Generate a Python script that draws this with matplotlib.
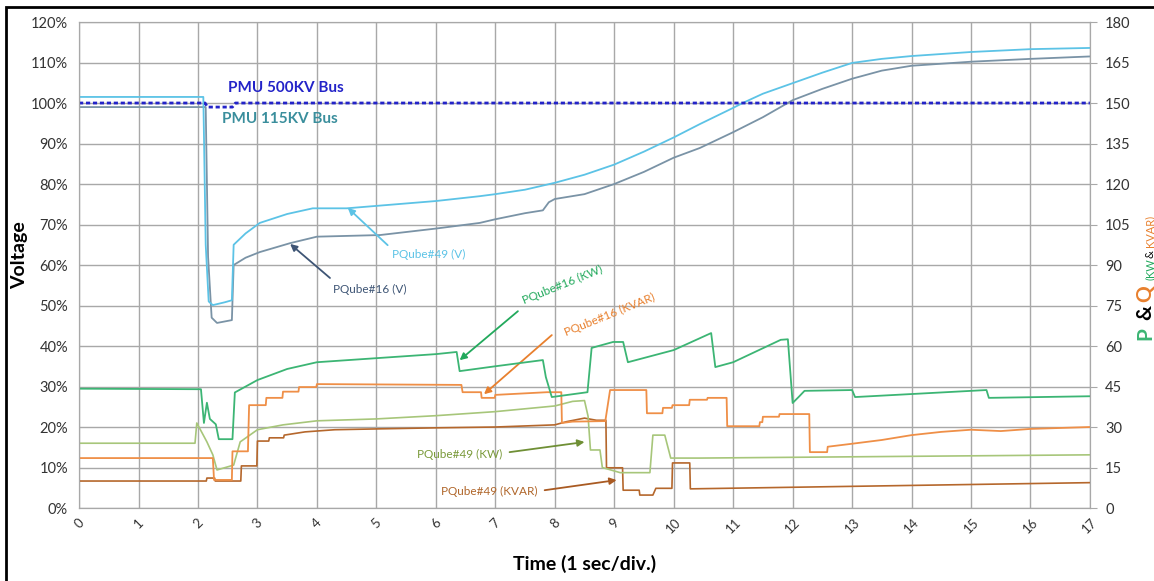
import matplotlib.pyplot as plt
from matplotlib.patches import Rectangle

plt.rcParams['font.family'] = ['Lato', 'DejaVu Sans']

# Bus voltages [% of nominal] vs time [s]
t_pmu500 = [0, 2.12, 2.16, 2.58, 2.63, 17]
v_pmu500 = [100, 100, 99, 99, 100, 100]

t_pq49_v = [0, 2.09, 2.13, 2.18, 2.25, 2.45, 2.57, 2.6, 2.8, 3.04, 3.5, 3.93, 4.5, 5, 6,
            6.74, 7, 7.5, 8, 8.5, 9, 9.5, 10, 10.44, 11, 11.16, 11.5, 12, 12.5, 13,
            13.5, 14, 15, 16, 17]
v_pq49 = [101.5, 101.5, 65, 51, 50.1, 50.8, 51.3, 65, 67.8, 70.4, 72.6, 74, 74, 74.6, 75.8,
          77, 77.5, 78.6, 80.3, 82.3, 84.8, 88, 91.5, 94.8, 98.8, 100, 102.3, 104.9, 107.5, 109.9,
          110.9, 111.6, 112.6, 113.3, 113.6]

t_pq16_v = [0, 2.13, 2.17, 2.23, 2.32, 2.57, 2.6, 2.8, 3.04, 3.55, 4, 5.06, 6, 6.74, 7,
            7.5, 7.8, 7.9, 8, 8.5, 9, 9.5, 10, 10.44, 11, 11.5, 12, 12.5, 13, 13.5,
            14, 15, 16, 17]
v_pq16 = [99, 99, 62, 47, 45.7, 46.4, 60, 61.8, 63.2, 65.4, 67, 67.4, 69, 70.4, 71.3,
          72.8, 73.5, 75.5, 76.3, 77.5, 80, 83, 86.5, 88.9, 92.8, 96.5, 100.7, 103.5, 106, 108,
          109.2, 110.2, 110.9, 111.5]

# Active / reactive power [kW, kVAR] vs time [s]
t_pq16_kw = [0, 2.05, 2.1, 2.15, 2.2, 2.3, 2.35, 2.58, 2.62, 3.0, 3.5, 4.0, 5, 6, 6.35,
             6.4, 7, 7.8, 7.85, 7.95, 8.55, 8.62, 8.98, 9.15, 9.23, 10, 10.63, 10.7, 11,
             11.8, 11.92, 12.0, 12.1, 12.2, 13.0, 13.05, 15.26, 15.3, 17]
p_pq16 = [44.2, 44.0, 31.5, 39, 33, 31, 25.5, 25.5, 42.8, 47.4, 51.5, 54, 55.5, 57, 57.8,
          50.7, 52.5, 54.8, 48.5, 41.1, 42.9, 59.3, 61.5, 61.5, 54, 58.5, 64.8, 52.2, 54,
          62.3, 62.5, 38.9, 41.1, 43.4, 43.7, 41.1, 43.7, 40.8, 41.4]

t_pq16_kvar = [0, 2.25, 2.27, 2.57, 2.58, 2.84, 2.86, 3.14, 3.15, 3.42, 3.43, 3.69, 3.7,
               3.99, 4.0, 6.43, 6.45, 6.76, 6.77, 6.99, 7.0, 7.87, 8.11, 8.12, 8.3, 8.85,
               8.93, 9.54, 9.55, 9.81, 9.82, 9.97, 9.98, 10.26, 10.27, 10.56, 10.57, 10.89,
               10.9, 11.44, 11.45, 11.49, 11.5, 11.77, 11.78, 12.28, 12.29, 12.58, 12.59,
               12.96, 13.5, 14, 14.5, 15, 15.5, 16, 17]
q_pq16 = [18.5, 18.5, 10.4, 10.4, 21, 21, 38.1, 38.1, 40.8, 40.8, 43.1, 43.1, 44.8,
          44.8, 45.9, 45.6, 42.9, 42.9, 40.8, 40.8, 41.9, 42.9, 42.9, 31.5, 32, 32.2,
          43.7, 43.7, 35.1, 35.1, 37.1, 37.1, 38.1, 38.1, 40.1, 40.1, 40.8, 40.8,
          30.3, 30.3, 31.8, 31.8, 33.8, 33.8, 34.8, 34.8, 20.7, 20.7, 22.7,
          23.7, 25.2, 27, 28.2, 29, 28.5, 29.3, 30]

t_pq49_kw = [0, 1.95, 1.98, 2.15, 2.25, 2.32, 2.6, 2.71, 3.0, 3.43, 4, 5, 6, 7, 8, 8.3,
             8.5, 8.56, 8.6, 8.76, 8.8, 9.1, 9.6, 9.65, 9.85, 9.95, 10.44, 17]
p_pq49 = [24, 24, 31.5, 24.5, 19.7, 14.1, 15.9, 24.5, 29, 30.8, 32.3, 33, 34.2, 35.7, 37.8,
          39.5, 39.8, 34, 21.5, 21.5, 15, 13.1, 13.1, 27, 27, 18.5, 18.5, 19.7]

t_pq49_kvar = [0, 2.14, 2.15, 2.28, 2.29, 2.72, 2.73, 2.99, 3.0, 3.19, 3.2, 3.44, 3.45,
               3.8, 4.3, 5, 6, 7, 8, 8.2, 8.5, 8.7, 8.86, 8.87, 9.14, 9.15, 9.42, 9.43,
               9.65, 9.7, 9.97, 9.98, 10.27, 10.28, 17]
q_pq49 = [10, 10, 11.1, 11.1, 10, 10, 15.6, 15.6, 24.8, 24.8, 26, 26, 27,
          28.2, 29, 29.3, 29.7, 30, 30.8, 32, 33.3, 32.5, 32.5, 14.9, 14.9, 6.6, 6.6, 4.8,
          4.8, 7.3, 7.3, 16.7, 16.7, 7.1, 9.4]

x_ticks = list(range(0, 18))
v_ticks = list(range(0, 121, 10))
pq_ticks = list(range(0, 181, 15))

c_pmu = '#2323c8'
c_v49 = '#5cc3e6'
c_v16 = '#7a93a6'
c_p16 = '#3cb574'
c_q16 = '#ef8f47'
c_p49 = '#a7c67a'
c_q49 = '#b5672c'

W, H = 1154, 581
fig = plt.figure(figsize=(11.54, 5.81), dpi=100)
ax = fig.add_axes([0.0685, 0.1256, 0.876, 0.8365])
ax2 = ax.twinx()

ax.plot(t_pq16_v, v_pq16, color=c_v16, lw=1.3)
ax.plot(t_pq49_v, v_pq49, color=c_v49, lw=1.3)
ax.plot(t_pmu500, v_pmu500, color=c_pmu, lw=2, ls=(0, (1.5, 1)))

ax2.plot(t_pq49_kvar, q_pq49, color=c_q49, lw=1.2)
ax2.plot(t_pq49_kw, p_pq49, color=c_p49, lw=1.2)
ax2.plot(t_pq16_kvar, q_pq16, color=c_q16, lw=1.3)
ax2.plot(t_pq16_kw, p_pq16, color=c_p16, lw=1.3)

ax.set_xlim(0, 17)
ax.set_ylim(0, 120)
ax2.set_ylim(0, 180)
ax.set_xticks(x_ticks)
ax.set_yticks(v_ticks)
ax.set_yticklabels([f'{v}%' for v in v_ticks])
ax2.set_yticks(pq_ticks)
ax.grid(True, color='#a8a8a8', lw=1)
ax.set_axisbelow(True)
for a in (ax, ax2):
    for s in a.spines.values():
        s.set_color('#a8a8a8')
ax.tick_params(axis='y', length=0, labelsize=10.5, labelcolor='#333333', pad=8)
ax.tick_params(axis='x', length=0, labelsize=9.5, labelcolor='#333333', pad=6)
ax2.tick_params(axis='y', length=5, color='#a8a8a8', labelsize=10.5, labelcolor='#333333', pad=6)
for lbl in ax.get_xticklabels():
    lbl.set_rotation(45)
    lbl.set_ha('center')

ax.set_xlabel('Time (1 sec/div.)', fontsize=14, fontweight='bold', labelpad=14)
fig.text(20 / W, 1 - 255 / H, 'Voltage', fontsize=14, fontweight='bold',
         rotation=90, ha='center', va='center')

# Curve labels
ax.text(2.5, 103.7, 'PMU 500KV Bus', color=c_pmu, fontsize=11, fontweight='bold', va='center')
ax.text(2.4, 96, 'PMU 115KV Bus', color='#3a8e9c', fontsize=11, fontweight='bold', va='center')

arrow_kw = dict(arrowstyle='-|>', lw=1.3, shrinkA=0, shrinkB=0, mutation_scale=10)
ax.annotate('', xy=(4.52, 74.1), xytext=(5.19, 64.9),
            arrowprops=dict(color=c_v49, **arrow_kw))
ax.text(5.26, 62.5, 'PQube#49 (V)', color=c_v49, fontsize=8.5, va='center')
ax.annotate('', xy=(3.55, 65.2), xytext=(4.22, 56.8),
            arrowprops=dict(color='#3e5575', **arrow_kw))
ax.text(4.27, 54, 'PQube#16 (V)', color='#3e5575', fontsize=8.5, va='center')

ax.annotate('', xy=(6.40, 36.5), xytext=(7.38, 48.6),
            arrowprops=dict(color='#22a95c', **arrow_kw))
ax.text(8.13, 55, 'PQube#16 (KW)', color='#22a95c', fontsize=8.5, rotation=22,
        ha='center', va='center')
ax.annotate('', xy=(6.81, 28.1), xytext=(7.95, 42.7),
            arrowprops=dict(color='#e8802e', **arrow_kw))
ax.text(8.92, 47.7, 'PQube#16 (KVAR)', color='#e8802e', fontsize=8.5, rotation=22,
        ha='center', va='center')

ax.annotate('', xy=(8.5, 16.3), xytext=(7.24, 13.8),
            arrowprops=dict(color='#6f8f35', **arrow_kw))
ax.text(6.40, 13.1, 'PQube#49 (KW)', color='#7a9a3a', fontsize=8.5, ha='center', va='center')
ax.annotate('', xy=(9.04, 6.9), xytext=(7.83, 4.4),
            arrowprops=dict(color='#a95a22', **arrow_kw))
ax.text(6.9, 4.0, 'PQube#49 (KVAR)', color='#b0662a', fontsize=8.5, ha='center', va='center')

# Right axis title in two colours, stacked bottom-up
pieces = [('P', c_p16, 15, 'bold', 1145, 340),
          ('&', 'black', 15, 'bold', 1145, 320),
          ('Q', '#e8802e', 15, 'bold', 1145, 302),
          ('(KW', '#22a95c', 8, 'normal', 1150, 280),
          ('&', 'black', 8, 'normal', 1150, 258),
          ('KVAR)', '#e8802e', 8, 'normal', 1150, 247)]
for txt, col, fs, fw, px, py in pieces:
    fig.text(px / W, 1 - py / H, txt, color=col, fontsize=fs, fontweight=fw,
             rotation=90, ha='center', va='bottom')

# Outer frame
fig.add_artist(Rectangle((6 / W, -0.05), 1.2, 1 - 7 / H + 0.05, transform=fig.transFigure,
                         fill=False, edgecolor='black', lw=2, clip_on=False))

fig.savefig('out.png', dpi=100)
